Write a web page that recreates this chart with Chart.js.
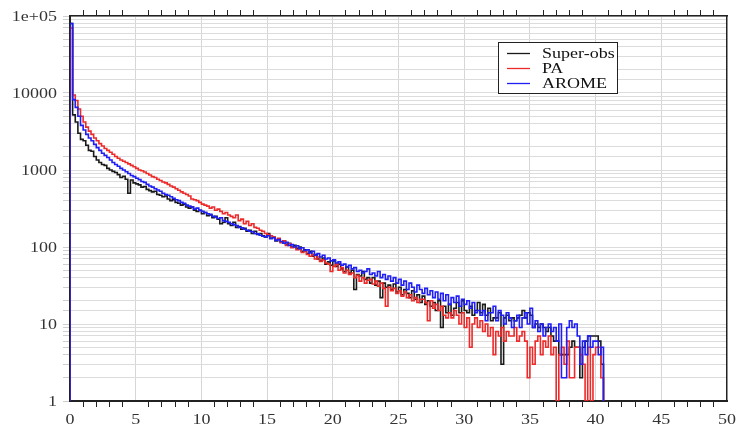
<!DOCTYPE html>
<html><head><meta charset="utf-8">
<script src="https://cdn.jsdelivr.net/npm/chart.js@4/dist/chart.umd.min.js"></script>
<style>html,body{margin:0;padding:0;background:#fff}#wrap{width:736px;height:427px}</style>
</head><body><div id="wrap"><canvas id="c" width="736" height="427"></canvas></div>
<script>
const binWidth = 0.2;
const seriesNames = ['Super-obs', 'PA', 'AROME'];
const superObs = [
80000,5200,4200,3000,2500,2400,2100,1800,1750,1500,
1350,1250,1180,1150,1050,1000,960,930,870,800,
830,760,500,740,680,660,640,600,610,560,
540,520,530,480,470,450,460,420,400,410,
380,370,350,360,330,320,330,300,290,300,
270,280,255,260,240,250,230,200,210,240,
200,190,210,180,185,170,175,160,165,150,
160,145,150,140,135,150,130,135,120,125,
115,120,108,112,100,105,96,100,88,92,
82,88,76,80,70,66,72,60,64,58,
66,56,60,52,48,55,46,50,28,44,
42,48,38,40,34,40,32,36,22,34,
30,32,28,33,26,30,24,28,25,22,
27,21,24,19,23,18,20,17,19,15,
20,9,17,14,18,13,16,19,14,20,
15,14,17,13,15,19,14,18,13,16,
11,12,12,14,3,12,13,11,12,11,
12,13,15,12,14,13,9,10,9,10,
9,8,9,7,6,6,4,4,4,4,
5,6,5,5,2,5,6,7,7,7,
7,6,3];
const pa = [
70000,9400,8000,6200,5000,4200,3600,3200,2900,2600,
2400,2200,2050,1900,1800,1700,1600,1500,1420,1350,
1300,1250,1200,1150,1100,1050,1000,980,940,900,
860,820,800,760,730,700,680,650,620,600,
570,545,520,500,480,460,420,410,400,380,
360,350,340,320,330,300,310,290,270,280,
260,250,240,260,220,230,200,215,190,200,
180,175,165,160,150,145,140,135,125,130,
115,120,105,110,98,100,92,95,85,88,
80,76,80,70,74,65,68,62,60,48,
56,60,50,54,46,50,44,46,40,43,
36,40,34,37,38,33,36,31,34,29,
17,30,27,29,25,27,23,26,22,24,
20,22,19,21,21,19,11,20,16,18,
15,17,13,12,14,12,15,13,10,14,
9,12,5,10,12,9,11,8,10,7,
9,4,8,7,9,6,8,7,7,9,
6,7,8,6,2,5,3,6,7,4,
6,5,7,4,5,1,4,5,3,6,
2,2,5,5,4,3,1,5,1,4,
5,5,2];
const arome = [
80000,8200,6500,5000,3800,3300,2900,2600,2400,2150,
1950,1800,1650,1550,1450,1350,1250,1180,1120,1050,
1000,950,900,850,820,780,750,710,690,650,
620,600,570,550,530,500,480,470,450,430,
410,400,380,370,350,340,330,310,320,300,
290,280,270,265,250,245,235,240,220,215,
210,200,195,190,180,178,170,165,160,158,
150,148,142,138,135,140,128,132,122,125,
118,112,115,105,108,100,104,95,98,90,
92,84,88,78,82,74,78,70,72,66,
68,62,64,58,60,55,58,52,54,48,
50,46,48,52,44,46,42,48,40,44,
38,42,36,40,34,38,32,36,28,34,
30,26,32,28,25,29,24,27,22,26,
21,25,20,24,18,22,19,23,17,21,
18,20,16,19,14,15,13,15,11,14,
14,17,11,15,13,10,14,12,9,11,
13,9,12,14,10,16,9,11,8,10,
7,9,10,8,9,6,10,2,2,9,
11,9,10,7,3,6,4,7,5,6,
6,4,5];
const yTickLabels = ['1', '10', '100', '1000', '10000', '1e+05'];
const yTickValues = [1, 10, 100, 1000, 10000, 100000];
const xTickLabels = ['0','5','10','15','20','25','30','35','40','45','50'];
const xTickValues = [0,5,10,15,20,25,30,35,40,45,50];

function toSteps(vals) {
  const pts = [{x: 0, y: 1}];
  vals.forEach((v, i) => pts.push({x: +(i * binWidth).toFixed(2), y: v}));
  pts.push({x: +(vals.length * binWidth).toFixed(2), y: 1});
  return pts;
}
const colors = ['#1a1a1a', '#ec2a2a', '#1e1ef5'];
const FONTSTR = '15px "Liberation Serif", "Times New Roman", serif';
const STRETCH = 1.2;

function stretchedText(ctx, txt, x, y, align) {
  ctx.save();
  ctx.translate(x, y);
  ctx.scale(STRETCH, 1);
  ctx.textAlign = align;
  ctx.fillText(txt, 0, 0);
  ctx.restore();
}

const labelPlugin = {
  id: 'stretchLabels',
  afterDraw(chart) {
    const ctx = chart.ctx;
    const sx = chart.scales.x, sy = chart.scales.y;
    ctx.save();
    ctx.font = FONTSTR;
    ctx.fillStyle = '#333';
    ctx.textBaseline = 'middle';
    xTickValues.forEach((v, i) => stretchedText(ctx, xTickLabels[i], sx.getPixelForValue(v), 420, 'center'));
    yTickValues.forEach((v, i) => stretchedText(ctx, yTickLabels[i], 57, sy.getPixelForValue(v) + 1, 'right'));
    // legend
    ctx.fillStyle = '#fff';
    ctx.fillRect(498.5, 42.5, 119, 51);
    ctx.strokeStyle = '#222';
    ctx.lineWidth = 1;
    ctx.strokeRect(498.5, 42.5, 119, 51);
    const rows = [53, 68, 83];
    seriesNames.forEach((n, i) => {
      ctx.strokeStyle = colors[i];
      ctx.lineWidth = 1.3;
      ctx.beginPath(); ctx.moveTo(507, rows[i] + 0.5); ctx.lineTo(530, rows[i] + 0.5); ctx.stroke();
      ctx.fillStyle = '#111';
      stretchedText(ctx, n, 542, rows[i] + 1, 'left');
    });
    ctx.restore();
  }
};

new Chart(document.getElementById('c'), {
  type: 'line',
  data: {
    datasets: [superObs, pa, arome].map((v, i) => ({
      label: seriesNames[i],
      data: toSteps(v),
      borderColor: colors[i],
      borderWidth: 1.6,
      pointRadius: 0,
      stepped: 'before',
      fill: false,
      order: 2 - i
    }))
  },
  options: {
    responsive: false,
    animation: false,
    devicePixelRatio: 1,
    layout: {padding: 0},
    plugins: {legend: {display: false}, tooltip: {enabled: false}},
    scales: {
      x: {
        type: 'linear', position: 'bottom', min: 0, max: 50,
        afterFit: s => { s.height = 26; },
        ticks: {stepSize: 1, autoSkip: false, maxRotation: 0, display: false},
        grid: {
          color: c => (c.tick && c.tick.value % 5 === 0 && c.tick.value > 0 && c.tick.value < 50) ? '#d6d6d6' : 'rgba(0,0,0,0)',
          tickColor: c => (c.tick && c.tick.value % 5 === 0) ? 'rgba(0,0,0,0)' : '#222',
          tickLength: 6, lineWidth: 1
        },
        border: {display: true, color: '#222', width: 2}
      },
      x2: {
        type: 'linear', position: 'top', min: 0, max: 50,
        afterFit: s => { s.height = 16; },
        ticks: {stepSize: 1, autoSkip: false, display: false},
        grid: {
          drawOnChartArea: false, tickLength: 6,
          tickColor: c => (c.tick && c.tick.value % 5 === 0) ? 'rgba(0,0,0,0)' : '#222'
        },
        border: {display: true, color: '#222', width: 1.5}
      },
      y: {
        type: 'logarithmic', position: 'left', min: 1, max: 100000,
        afterFit: s => { s.width = 70; },
        ticks: {autoSkip: false, display: false},
        grid: {color: '#dcdcdc', tickColor: '#cfcfcf', tickLength: 7, lineWidth: 1},
        border: {display: true, color: '#222', width: 2}
      },
      y2: {
        type: 'linear', position: 'right', min: 0, max: 1,
        afterFit: s => { s.width = 9; },
        ticks: {display: false},
        grid: {drawOnChartArea: false, drawTicks: false},
        border: {display: true, color: '#222', width: 1.5}
      }
    }
  },
  plugins: [labelPlugin]
});
</script>
</body></html>
